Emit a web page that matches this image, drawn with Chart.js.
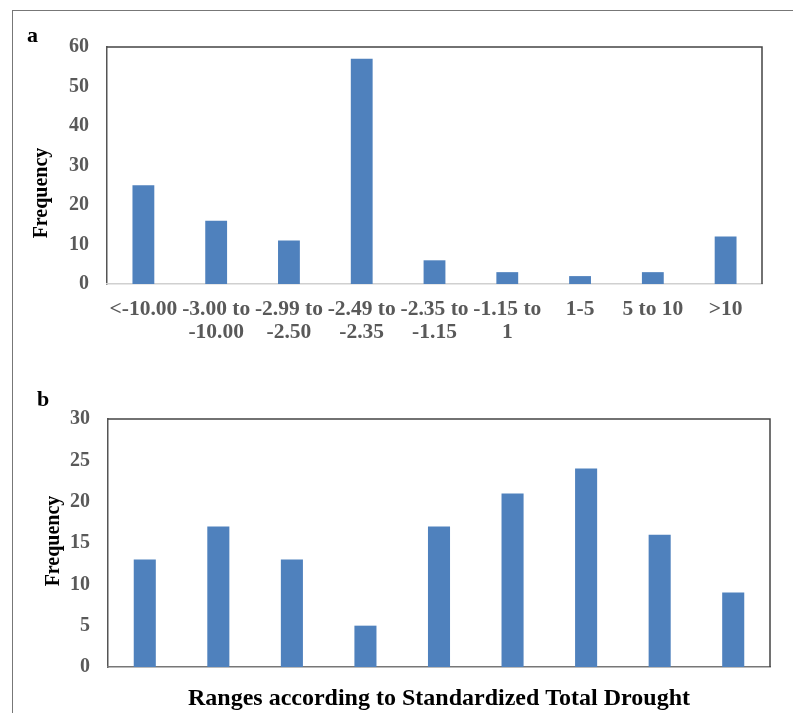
<!DOCTYPE html>
<html>
<head>
<meta charset="utf-8">
<script src="https://cdn.jsdelivr.net/npm/chart.js@4.4.0/dist/chart.umd.min.js"></script>
<style>
  body { margin: 0; background: #fff; }
  #wrap { position: relative; width: 793px; height: 713px; overflow: hidden; font-family: "Liberation Serif", "Times New Roman", serif; }
  #frame { position: absolute; left: 12px; top: 10px; width: 900px; height: 900px; border-left: 1px solid #777; border-top: 1px solid #777; }
  canvas { position: absolute; left: 0; }
  .tag { position: absolute; font-weight: bold; font-size: 22px; color: #000; }
  .ytitle { position: absolute; font-weight: bold; font-size: 20px; color: #000; transform: translate(-50%, -50%) rotate(-90deg); white-space: nowrap; }
</style>
</head>
<body>
<div id="wrap">
  <div id="frame"></div>
  <canvas id="chartA" width="793" height="360" style="top:0"></canvas>
  <canvas id="chartB" width="793" height="353" style="top:360px"></canvas>
  <div class="tag" style="left:27px; top:22px">a</div>
  <div class="tag" style="left:37px; top:386px">b</div>
  <div class="ytitle" style="left:40px; top:193px">Frequency</div>
  <div class="ytitle" style="left:52px; top:541px">Frequency</div>
</div>
<script>
// panel a: ranges and counts
const rangesA = [
    '<-10.00',
    ['-3.00 to', '-10.00'],
    ['-2.99 to', '-2.50'],
    ['-2.49 to', '-2.35'],
    ['-2.35 to', '-1.15'],
    ['-1.15 to', '1'],
    '1-5',
    '5 to 10',
    '>10'
];
const freqA = [25, 16, 11, 57, 6, 3, 2, 3, 12];
const ticksA = [0, 10, 20, 30, 40, 50, 60];

// panel b: same nine ranges, no labels shown
const rangesB = ['r1', 'r2', 'r3', 'r4', 'r5', 'r6', 'r7', 'r8', 'r9'];
const freqB = [13, 17, 13, 5, 17, 21, 24, 16, 9];
const ticksB = [0, 5, 10, 15, 20, 25, 30];

const BAR = '#4f81bd';
const TICK_GRAY = '#595959';
const yFont = { family: 'Liberation Serif', size: 20, weight: 'bold' };
const xFont = { family: 'Liberation Serif', size: 21.5, weight: 'bold', lineHeight: 1.07 };

// draws the top and right edges of the plot box
const boxEdges = {
    id: 'boxEdges',
    afterDraw(chart) {
        const a = chart.chartArea;
        const ctx = chart.ctx;
        ctx.save();
        ctx.strokeStyle = '#444';
        ctx.lineWidth = 1.5;
        ctx.beginPath();
        ctx.moveTo(a.left, a.top);
        ctx.lineTo(a.right, a.top);
        ctx.lineTo(a.right, a.bottom);
        ctx.stroke();
        ctx.restore();
    }
};

function makeChart(id, labels, data, ticks, opts) {
    const ctx = document.getElementById(id).getContext('2d');
    return new Chart(ctx, {
        type: 'bar',
        data: {
            labels: labels,
            datasets: [{
                data: data,
                backgroundColor: BAR,
                categoryPercentage: 1,
                barPercentage: 0.3
            }]
        },
        options: {
            responsive: false,
            animation: false,
            devicePixelRatio: 1,
            layout: { padding: opts.padding },
            plugins: { legend: { display: false }, tooltip: { enabled: false } },
            scales: {
                y: {
                    min: ticks[0],
                    max: ticks[ticks.length - 1],
                    afterBuildTicks: s => { s.ticks = ticks.map(v => ({ value: v })); },
                    ticks: { font: yFont, color: TICK_GRAY, padding: 18 },
                    grid: { display: false, drawTicks: false },
                    border: { display: true, color: '#555', width: 1.5 },
                    afterFit: s => { s.width = opts.yWidth; }
                },
                x: {
                    grid: { display: false, drawTicks: false },
                    border: { display: true, color: opts.xBorder, width: 1.5 },
                    ticks: {
                        display: opts.showX,
                        font: xFont,
                        color: TICK_GRAY,
                        maxRotation: 0,
                        autoSkip: false,
                        padding: 14
                    },
                    title: opts.xTitle,
                    afterFit: s => { s.height = opts.xHeight; }
                }
            }
        },
        plugins: [boxEdges]
    });
}

Chart.defaults.font.lineHeight = 1.15;

makeChart('chartA', rangesA, freqA, ticksA, {
    padding: { top: 47, right: 31, left: 0, bottom: 0 },
    yWidth: 107,
    xHeight: 76,
    xBorder: '#d0d0d0',
    showX: true,
    xTitle: { display: false }
});

makeChart('chartB', rangesB, freqB, ticksB, {
    padding: { top: 59, right: 23, left: 0, bottom: 0 },
    yWidth: 108,
    xHeight: 46,
    xBorder: '#777',
    showX: false,
    xTitle: {
        display: true,
        text: 'Ranges according to Standardized Total Drought',
        color: '#000',
        font: { family: 'Liberation Serif', size: 24, weight: 'bold', lineHeight: 1.2 },
        padding: { top: 0, bottom: 0 }
    }
});
</script>
</body>
</html>
